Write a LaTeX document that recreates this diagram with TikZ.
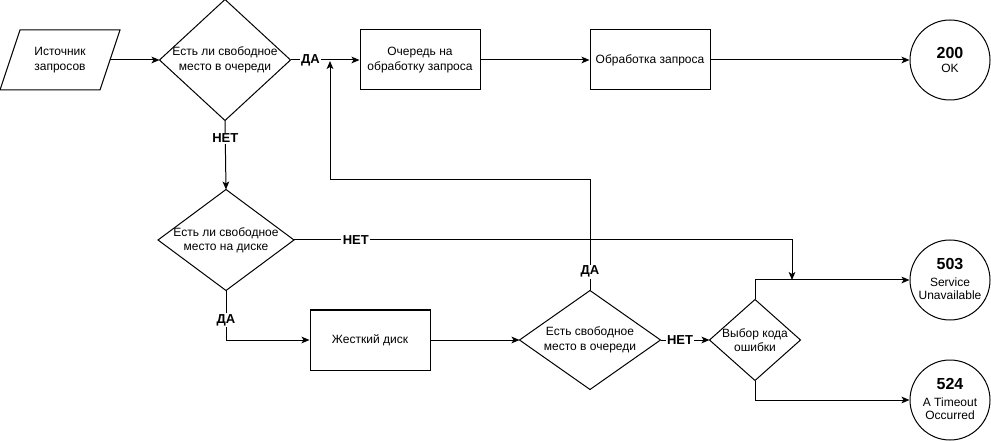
\documentclass[tikz,border=0pt]{standalone}
\usepackage{fontspec}
\setmainfont{Liberation Sans}
\usetikzlibrary{arrows.meta}
\newlength\pxu
\setlength\pxu{0.75pt}
\begin{document}
\begin{tikzpicture}[x=0.75pt,y=-0.75pt,
  line width=0.75pt,
  every node/.style={font=\fontsize{9pt}{10.8pt}\selectfont, align=center},
  arr/.style={-{Stealth[length=6pt,width=5pt,inset=1.5pt]}},
  box/.style={draw, rectangle, inner sep=0pt, minimum width=120\pxu, minimum height=60\pxu},
  dmd/.style 2 args={rectangle, inner sep=0pt, minimum width=#1\pxu, minimum height=#2\pxu},
  endc/.style={draw, circle, inner sep=0pt, minimum size=80\pxu},
  lbl/.style={fill=white, inner sep=1pt, font=\fontsize{9.75pt}{11pt}\selectfont\bfseries},
  endt/.style={inner sep=0pt}
]
\useasboundingbox (0,0) rectangle (991,441);

% source (parallelogram)
\coordinate (p1) at (20,30);
\coordinate (p2) at (120,30);
\coordinate (p3) at (100,90);
\coordinate (p4) at (0,90);
\draw (p1) -- (p2) -- (p3) -- (p4) -- cycle;
\node (src) at (60,60) {Источник\\запросов};
\coordinate (srcE) at (110,60);

% decisions
\node[dmd={130}{120}] (d1) at (225,60) {Есть ли свободное\\место в очереди};
\draw (d1.north) -- (d1.east) -- (d1.south) -- (d1.west) -- cycle;
\node[dmd={135}{100}] (d2) at (226,240) {Есть ли свободное\\место на диске};
\draw (d2.north) -- (d2.east) -- (d2.south) -- (d2.west) -- cycle;
\node[dmd={140}{98}] (d3) at (590,340) {Есть свободное\\место в очереди};
\draw (d3.north) -- (d3.east) -- (d3.south) -- (d3.west) -- cycle;
\node[dmd={90}{80}] (d4) at (755,340) {Выбор кода\\ошибки};
\draw (d4.north) -- (d4.east) -- (d4.south) -- (d4.west) -- cycle;

% boxes
\node[box] (q1) at (420,60) {Очередь на\\обработку запроса};
\node[box] (proc) at (650,60) {Обработка запроса};
\node[box] (hdd) at (370,340) {Жесткий диск};

% end states
\node[endc] (c200) at (950,60) {};
\node[endt] (t200) at (950,62) {\begin{tabular}{@{}c@{}}{\fontsize{12pt}{13pt}\selectfont\bfseries 200}\\[-0.3pt] OK\end{tabular}};
\node[endc] (c503) at (950,280) {};
\node[endt] (t503) at (950,281) {\begin{tabular}{@{}c@{}}{\fontsize{12pt}{13pt}\selectfont\bfseries 503}\\[2pt] Service\\[-0.5pt] Unavailable\end{tabular}};
\node[endc] (c524) at (950,400) {};
\node[endt] (t524) at (950,401) {\begin{tabular}{@{}c@{}}{\fontsize{12pt}{13pt}\selectfont\bfseries 524}\\[2pt] A Timeout\\[-0.5pt] Occurred\end{tabular}};

% helper coordinates
\coordinate (j503) at (792,280);
\coordinate (bend) at (330,180);
\coordinate (ret) at (330,61);

% connectors
\draw[arr] (srcE) -- (d1.west);
\draw[arr] (d1.east) -- node[lbl, pos=0.29] {ДА} (q1.west);
\draw[arr] (q1.east) -- (proc.west);
\draw[arr] (proc.east) -- (c200.west);
\draw[arr] (d1.south) -- node[lbl, pos=0.26] {НЕТ} (d2.north);
\draw[arr] (d2.east) -| node[lbl, pos=0.062] {НЕТ} (j503);
\draw[arr] (d2.south) |- node[lbl, pos=0.3] {ДА} (hdd.west);
\draw[arr] (hdd.east) -- (d3.west);
\draw[arr] (d3.north) |- node[lbl, pos=0.085] {ДА} (bend) -- (ret);
\draw[arr] (d3.east) -- node[lbl, pos=0.4] {НЕТ} (d4.west);
\draw[arr] (d4.north) |- (c503.west);
\draw[arr] (d4.south) |- (c524.west);
\end{tikzpicture}
\end{document}
